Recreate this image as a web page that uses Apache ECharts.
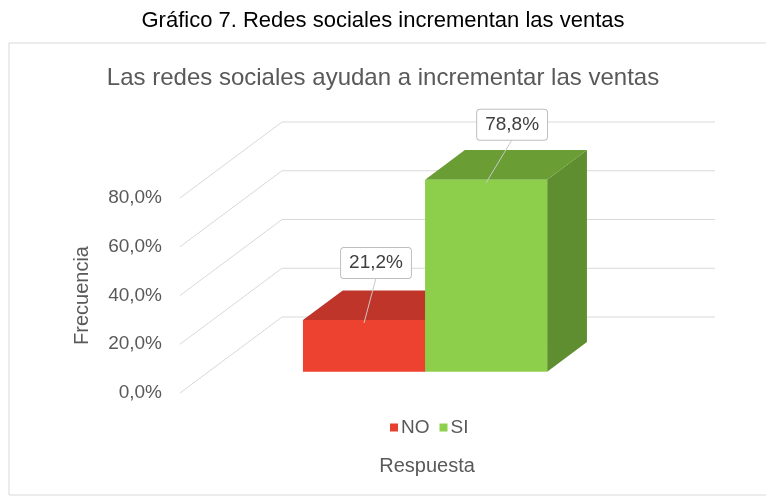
<!DOCTYPE html>
<html><head><meta charset="utf-8">
<script src="https://cdn.jsdelivr.net/npm/echarts@6/dist/echarts.min.js"></script>
<style>html,body{margin:0;padding:0;background:#fff}#c{width:766px;height:498px}</style>
</head><body><div id="c"></div><script>
// ---- data ----
const categories = ['Respuesta'];
const seriesNames = ['NO', 'SI'];
const valuesNO = [21.2];
const valuesSI = [78.8];
const yTicks = [0, 20, 40, 60, 80];

// ---- style / layout constants ----
const FONT = '"Liberation Sans", Arial, sans-serif';
const DEPTH = [102, -76];   // full floor depth (front plane -> back wall)
const D0 = 0.28, D1 = 0.67; // bar depth span
const BAR_FRAC = 0.282;     // bar width as fraction of category band

function fmt(v) { return v.toFixed(1).replace('.', ',') + '%'; }

function barRenderer(slot, colors, labelOff) {
  return function (params, api) {
    const v = api.value(1);
    const base = api.coord([api.value(0), 0]);
    const top = api.coord([api.value(0), v]);
    const band = api.size([1, 0])[0];
    const w = band * BAR_FRAC;
    const xl = base[0] + slot * w, xr = xl + w;
    const fx = DEPTH[0] * D0, fy = DEPTH[1] * D0;
    const bx = DEPTH[0] * D1, by = DEPTH[1] * D1;
    const front = [[xl + fx, top[1] + fy], [xr + fx, top[1] + fy], [xr + fx, base[1] + fy], [xl + fx, base[1] + fy]];
    const topF = [[xl + fx, top[1] + fy], [xr + fx, top[1] + fy], [xr + bx, top[1] + by], [xl + bx, top[1] + by]];
    const side = [[xr + fx, top[1] + fy], [xr + bx, top[1] + by], [xr + bx, base[1] + by], [xr + fx, base[1] + fy]];
    const anchor = [(xl + xr) / 2 + fx, top[1] + fy + 3];
    const lc = [anchor[0] + labelOff[0], anchor[1] + labelOff[1]];
    return {
      type: 'group',
      children: [
        { type: 'polygon', shape: { points: side }, style: { fill: colors.side } },
        { type: 'polygon', shape: { points: topF }, style: { fill: colors.top } },
        { type: 'polygon', shape: { points: front }, style: { fill: colors.front } },
        { type: 'line', shape: { x1: lc[0], y1: lc[1] + 15, x2: anchor[0], y2: anchor[1] }, style: { stroke: '#c8c8c8', lineWidth: 1 } },
        { type: 'text', x: lc[0], y: lc[1], style: {
            text: fmt(v), fill: '#404040', font: '19px ' + FONT, align: 'center', verticalAlign: 'middle',
            backgroundColor: '#ffffff', borderColor: '#bfbfbf', borderWidth: 1, borderRadius: 3, padding: [6, 8, 5, 8]
          } }
      ]
    };
  };
}

const chart = echarts.init(document.getElementById('c'));
chart.setOption({
  animation: false,
  backgroundColor: '#ffffff',
  textStyle: { fontFamily: FONT },
  title: [
    { text: 'Gráfico 7. Redes sociales incrementan las ventas', left: 'center', top: 5,
      textStyle: { fontSize: 22, fontWeight: 'normal', color: '#000000', fontFamily: FONT } },
    { text: 'Las redes sociales ayudan a incrementar las ventas', left: 'center', top: 61,
      textStyle: { fontSize: 24, fontWeight: 'normal', color: '#595959', fontFamily: FONT } }
  ],
  graphic: [
    { type: 'rect', shape: { x: 9, y: 43, width: 770, height: 452 }, style: { fill: 'none', stroke: '#d9d9d9', lineWidth: 1 }, z: -10 }
  ],
  legend: {
    data: seriesNames, left: 385, top: 413, icon: 'rect', itemWidth: 8, itemHeight: 8, itemGap: 10,
    textStyle: { fontSize: 19, color: '#595959', fontFamily: FONT, padding: [0, 0, 0, -2] }
  },
  grid: { left: 180, right: 153, top: 198, bottom: 105 },
  xAxis: {
    type: 'category', data: categories,
    axisLine: { show: false }, axisTick: { show: false }, axisLabel: { show: false }, splitLine: { show: false },
    name: 'Respuesta', nameLocation: 'middle', nameGap: 63,
    nameTextStyle: { fontSize: 20, color: '#595959', padding: [0, 0, 0, 61], fontFamily: FONT }
  },
  yAxis: {
    type: 'value', min: 0, max: 80, interval: 20,
    axisLine: { show: false }, axisTick: { show: false }, splitLine: { show: false },
    axisLabel: { formatter: fmt, fontSize: 19, color: '#595959', margin: 18, fontFamily: FONT },
    name: 'Frecuencia', nameLocation: 'middle', nameGap: 88,
    nameTextStyle: { fontSize: 20, color: '#595959', fontFamily: FONT }
  },
  series: [
    {
      type: 'custom', name: 'walls', silent: true, z: 1,
      data: yTicks.map(t => [0, t]),
      renderItem: function (params, api) {
        const cs = params.coordSys;
        const y = api.coord([0, api.value(1)])[1];
        const x0 = cs.x, x1 = cs.x + cs.width;
        return { type: 'polyline',
          shape: { points: [[x0, y], [x0 + DEPTH[0], y + DEPTH[1]], [x1 + DEPTH[0], y + DEPTH[1]]] },
          style: { stroke: '#d9d9d9', lineWidth: 1, fill: null } };
      }
    },
    {
      type: 'custom', name: 'NO', z: 2, itemStyle: { color: '#e8402e' },
      data: valuesNO.map((v, i) => [i, v]),
      renderItem: barRenderer(-1, { front: '#ee4230', top: '#c0352a', side: '#a82d22' }, [12, -60])
    },
    {
      type: 'custom', name: 'SI', z: 3, itemStyle: { color: '#8fcf4e' },
      data: valuesSI.map((v, i) => [i, v]),
      renderItem: barRenderer(0, { front: '#8dcf4b', top: '#6a9e35', side: '#5e8e2f' }, [26, -58])
    }
  ]
});
</script></body></html>
